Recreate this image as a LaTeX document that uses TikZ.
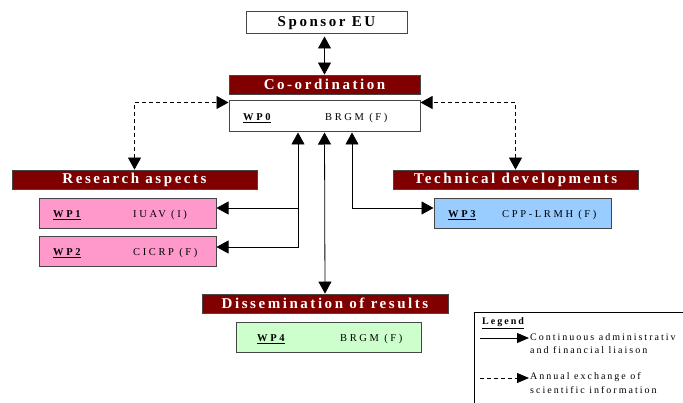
\documentclass[tikz,border=0pt]{standalone}
\usepackage{fontspec}
\setmainfont{Liberation Serif}
\newfontfamily\spcbig[LetterSpace=17]{Liberation Serif}
\newfontfamily\spcmid[LetterSpace=25]{Liberation Serif}
\newfontfamily\spcleg[LetterSpace=20]{Liberation Serif}
\usetikzlibrary{arrows.meta,calc}
\definecolor{barred}{RGB}{128,0,0}
\definecolor{wppink}{RGB}{255,153,204}
\definecolor{wpblue}{RGB}{153,204,255}
\definecolor{wpgreen}{RGB}{204,255,204}
\definecolor{edgegray}{RGB}{70,70,70}
\begin{document}
\begin{tikzpicture}[x=1pt,y=-1pt,
  >={Triangle[length=12pt,width=13pt]},
  wpbox/.style={draw=edgegray, line width=1pt, inner sep=0pt, anchor=center},
  barbox/.style={fill=barred, draw=edgegray, line width=0.8pt, inner sep=0pt, anchor=center,
     text=white, font={\spcbig\bfseries\fontsize{15}{17}\selectfont}},
  wplbl/.style={anchor=base west, inner sep=0pt, font={\spcmid\bfseries\fontsize{10.5}{12}\selectfont}},
  inst/.style={anchor=base west, inner sep=0pt, font={\spcmid\fontsize{10.5}{12}\selectfont}},
  con/.style={line width=0.8pt},
  dcon/.style={line width=0.8pt, dash pattern=on 4pt off 3pt},
  legtxt/.style={anchor=base west, inner sep=0pt, font={\spcleg\fontsize{10}{12}\selectfont}},
  legarr/.style={line width=0.8pt, -{Triangle[length=12pt,width=10pt]}}
]
\useasboundingbox (0,0) rectangle (683,403);

% Sponsor
\node[wpbox, fill=white, minimum width=161pt, minimum height=22pt,
      font={\spcbig\bfseries\fontsize{15}{17}\selectfont}] (spon) at (326.5,23) {Sponsor EU};

% Coordination
\node[barbox, minimum width=191pt, minimum height=19pt] (coord) at (324.5,84.5) {Co-ordination};
\node[wpbox, fill=white, minimum width=191pt, minimum height=31pt] (wp0) at (324.5,116.5) {};
\node[wplbl] (wp0l) at (243,121) {\underline{WP0}};
\node[inst] (wp0i) at (325,121) {BRGM (F)};

% Research aspects
\node[barbox, minimum width=245pt, minimum height=19pt] (ra) at (134.5,179.5) {Research aspects};
\node[wpbox, fill=wppink, minimum width=177pt, minimum height=30pt] (wp1) at (127.5,214) {};
\node[wplbl] (wp1l) at (53,218) {\underline{WP1}};
\node[inst] (wp1i) at (133,218) {IUAV (I)};
\node[wpbox, fill=wppink, minimum width=177pt, minimum height=30pt] (wp2) at (127.5,252) {};
\node[wplbl] (wp2l) at (53,256) {\underline{WP2}};
\node[inst] (wp2i) at (133,256) {CICRP (F)};

% Technical developments
\node[barbox, minimum width=245pt, minimum height=19pt] (tech) at (515.5,179.5) {Technical developments};
\node[wpbox, fill=wpblue, minimum width=177pt, minimum height=30pt] (wp3) at (522.5,214) {};
\node[wplbl] (wp3l) at (448,218) {\underline{WP3}};
\node[inst] (wp3i) at (502,218) {CPP-LRMH (F)};

% Dissemination
\node[barbox, minimum width=246pt, minimum height=19pt] (diss) at (325,303.5) {Dissemination of results};
\node[wpbox, fill=wpgreen, minimum width=185pt, minimum height=30pt] (wp4) at (328.5,338) {};
\node[wplbl] (wp4l) at (257,342) {\underline{WP4}};
\node[inst] (wp4i) at (340,342) {BRGM (F)};

% connectors
\draw[con, <->, shorten <=2pt] (spon.south -| coord.north) -- (coord.north);
\draw[dcon, <->] (ra.north) |- ($(wp0.north west)+(0,2)$);
\draw[dcon, <->] (tech.north) |- ($(wp0.north east)+(0,2)$);

\coordinate (bl) at ($(wp0.south)+(-26.5,0)$);
\coordinate (br) at ($(wp0.south)+(27.5,0)$);
\coordinate (w1) at ($(wp1.east)+(0,-6)$);
\coordinate (w2) at ($(wp2.east)+(0,-5)$);
\coordinate (w3) at ($(wp3.west)+(0,-6)$);
\draw[con, <->] (w2) -| (bl);
\draw[con, ->] (w1 -| bl) -- (w1);
\draw[con, <->] (wp0.south) -- (diss.north);
\draw[con, <->] (br) |- (w3);

% Legend
\draw[line width=0.8pt] (474,403) -- (474,312) -- (683,312);
\node[anchor=base west, inner sep=0pt, font={\spcleg\bfseries\fontsize{10}{12}\selectfont}] (leg) at (482,325) {\underline{Legend}};
\coordinate (l1a) at (480,338);
\coordinate (l1b) at (529,338);
\draw[legarr] (l1a) -- (l1b);
\node[legtxt] (t1) at (530,341) {Continuous administrativ};
\node[legtxt] (t2) at (530,354) {and financial liaison};
\coordinate (l2a) at (480,378);
\coordinate (l2b) at (529,378);
\draw[legarr, dash pattern=on 4pt off 3pt] (l2a) -- (l2b);
\node[legtxt] (t3) at (530,380) {Annual exchange of};
\node[legtxt] (t4) at (530,393) {scientific information};
\end{tikzpicture}
\end{document}
